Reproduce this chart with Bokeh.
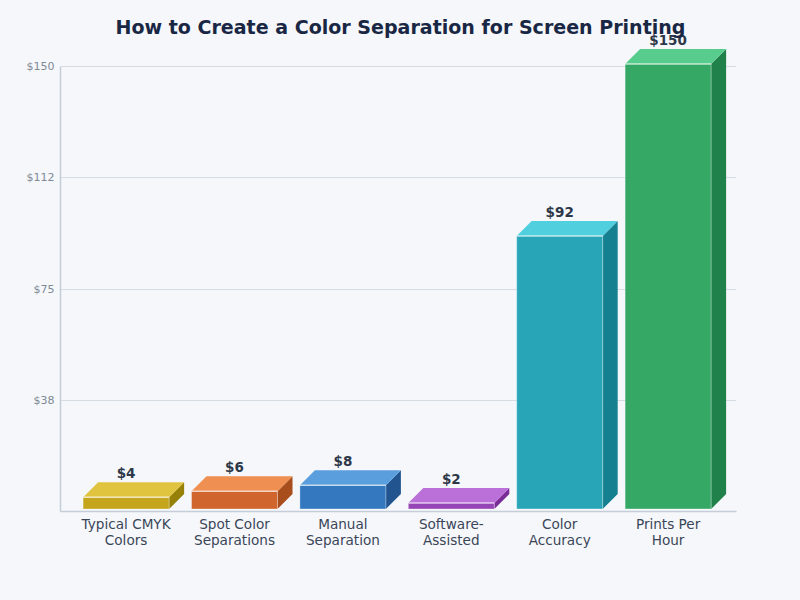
from bokeh.plotting import figure
from bokeh.models import ColumnDataSource, FixedTicker, LabelSet, Range1d
from bokeh.core.properties import value
from bokeh.embed import file_html
from bokeh.resources import INLINE

categories = ["Typical CMYK\nColors", "Spot Color\nSeparations", "Manual\nSeparation",
              "Software-\nAssisted", "Color\nAccuracy", "Prints Per\nHour"]
values = [4, 6, 8, 2, 92, 150]
value_labels = ["$4", "$6", "$8", "$2", "$92", "$150"]
y_ticks = [37.5, 75, 112.5, 150]
y_tick_labels = ["$38", "$75", "$112", "$150"]
front_colors = ["#c4a51c", "#d0652d", "#3478c0", "#9545b5", "#28a6b8", "#36a866"]
top_colors = ["#e0c440", "#ef8f52", "#5a9ede", "#bb6fd8", "#50cfde", "#58cc8c"]
side_colors = ["#978007", "#a84d1c", "#22558f", "#7a2d96", "#158090", "#20824a"]

BG = "#f5f7fb"
SLOT_PX = 108.4
UNIT_PX = 445 / 150
DEPTH_PX = 15
BAR_PX = 86
BASE_PX = 2.5
FRAME_H = 481
dx = DEPTH_PX / SLOT_PX
dy = DEPTH_PX / UNIT_PX
hw = BAR_PX / SLOT_PX / 2
base = BASE_PX / UNIT_PX

p = figure(width=800, height=600, output_backend="svg", toolbar_location=None,
           x_range=Range1d(-65.6 / SLOT_PX, 610.4 / SLOT_PX),
           y_range=Range1d(0, FRAME_H / UNIT_PX),
           min_border_left=60, min_border_right=64, min_border_bottom=89, min_border_top=30,
           background_fill_color=BG, border_fill_color=BG, outline_line_color=None)

p.title.text = "How to Create a Color Separation for Screen Printing"
p.title.align = "left"
p.title.offset = 55
p.title.text_font = "DejaVu Sans"
p.title.text_font_size = "19.05px"
p.title.text_font_style = "bold"
p.title.text_color = "#1a2744"
p.title.standoff = -14

xs = list(range(len(values)))
left = [x - hw for x in xs]
right = [x + hw for x in xs]
tops = [v + base for v in values]
bottoms = [base] * len(values)

top_xs = [[l, r, r + dx, l + dx] for l, r in zip(left, right)]
top_ys = [[t, t, t + dy, t + dy] for t in tops]
side_xs = [[r, r + dx, r + dx, r] for r in right]
side_ys = [[b, b + dy, t + dy, t] for b, t in zip(bottoms, tops)]

p.patches(side_xs, side_ys, fill_color=side_colors, line_color=None)
p.patches(top_xs, top_ys, fill_color=top_colors, line_color=None)
p.quad(left=left, right=right, bottom=bottoms, top=tops, fill_color=front_colors,
       line_color="#ffffff", line_alpha=0.35, line_width=1)
p.segment(x0=left, x1=right, y0=tops, y1=tops, line_color="#ffffff", line_alpha=0.55, line_width=1.5)

labels = ColumnDataSource(dict(x=xs, y=[t + dy + 9 / UNIT_PX for t in tops], text=value_labels))
p.add_layout(LabelSet(x="x", y="y", text="text", source=labels, text_align="center",
                      text_baseline="middle", text_font=value("DejaVu Sans"),
                      text_font_size="13.5px", text_font_style="bold", text_color="#2d3748"))

p.xgrid.visible = False
p.ygrid.ticker = FixedTicker(ticks=y_ticks)
p.ygrid.grid_line_color = "#d5dce4"
p.ygrid.grid_line_width = 1

ax = p.yaxis[0]
ax.ticker = FixedTicker(ticks=y_ticks)
ax.major_label_overrides = dict(zip(y_ticks, y_tick_labels))
ax.bounds = (0, 150)
ax.axis_line_color = "#c5cdd8"
ax.axis_line_width = 1.5
ax.major_tick_line_color = None
ax.minor_tick_line_color = None
ax.major_tick_out = 0
ax.major_tick_in = 0
ax.minor_tick_out = 0
ax.major_label_standoff = 6
ax.major_label_text_font = "DejaVu Sans"
ax.major_label_text_font_size = "11px"
ax.major_label_text_color = "#7f8a96"

bx = p.xaxis[0]
bx.ticker = FixedTicker(ticks=xs)
bx.major_label_overrides = dict(zip(xs, categories))
bx.axis_line_color = "#c5cdd8"
bx.axis_line_width = 1.5
bx.major_tick_line_color = None
bx.minor_tick_line_color = None
bx.major_tick_out = 0
bx.major_tick_in = 0
bx.minor_tick_out = 0
bx.major_label_standoff = 4
bx.major_label_text_font = "DejaVu Sans"
bx.major_label_text_font_size = "13.6px"
bx.major_label_text_line_height = 1.05
bx.major_label_text_color = "#3a4658"

html = file_html(p, INLINE)
html = html.replace("<head>", "<head><style>html,body{background:%s}</style>" % BG, 1)
open("out.html", "w").write(html)
